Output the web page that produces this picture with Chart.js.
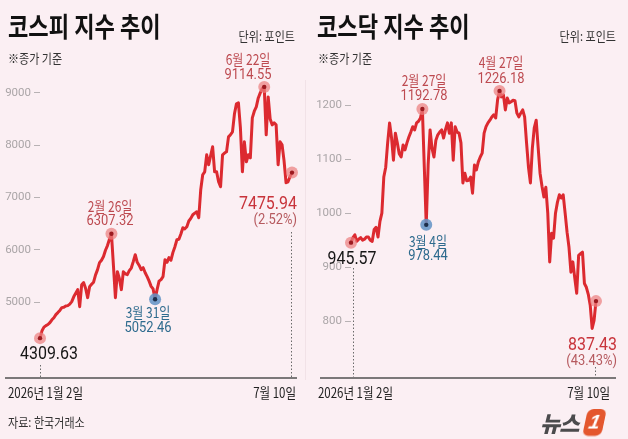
<!DOCTYPE html>
<html>
<head>
<meta charset="utf-8">
<script src="https://cdn.jsdelivr.net/npm/chart.js@4.4.1/dist/chart.umd.min.js"></script>
<style>
  body { margin: 0; width: 628px; height: 439px; overflow: hidden; position: relative; background: #fbeff3; font-family: "Noto Sans CJK KR", sans-serif; }
  canvas { position: absolute; top: 0; }
  .t { position: absolute; white-space: nowrap; line-height: 1; }
  .title { font-size: 27px; font-weight: 700; color: #111; transform: scaleX(0.82); transform-origin: left top; }
  .divider { position: absolute; left: 305px; top: 80px; width: 1px; height: 300px; background: #f1e2e7; }
  .logo { position: absolute; left: 540px; top: 409px; width: 70px; height: 28px; white-space: nowrap; }
  .logo .nw { position: absolute; left: 0; top: 2px; font-size: 22px; font-weight: 900; font-style: italic; color: #4b4b4d; letter-spacing: -1px; line-height: 1; white-space: nowrap; }
  .logo .one { position: absolute; left: 45px; top: 0; width: 19px; height: 27px; background: #e4572e; border-radius: 6px; transform: skewX(-12deg); color: #fff; font: italic 900 20px "Liberation Sans", sans-serif; text-align: center; line-height: 27px; }
</style>
</head>
<body>
<canvas id="kospiChart" width="312" height="439" style="left:0"></canvas>
<canvas id="kosdaqChart" width="314" height="439" style="left:314px"></canvas>
<div class="divider"></div>

<div class="t title" style="left:8px;top:12px">코스피 지수 추이</div>
<div class="t title" style="left:317px;top:12px">코스닥 지수 추이</div>
<div class="logo"><span class="nw">뉴스</span><span class="one">1</span></div>

<script>
// holidays when the exchange is closed
const holidays = ['2026-02-16', '2026-02-17', '2026-02-18', '2026-03-02', '2026-05-01', '2026-05-05', '2026-05-25', '2026-06-03'];

// trading days, 2026-01-02 .. 2026-07-10
const tradingDays = [];
for (let d = new Date(Date.UTC(2026, 0, 2)); d <= new Date(Date.UTC(2026, 6, 10)); d.setUTCDate(d.getUTCDate() + 1)) {
  const day = d.getUTCDay();
  const s = d.toISOString().slice(0, 10);
  if (day !== 0 && day !== 6 && !holidays.includes(s)) tradingDays.push(s);
}

// KOSPI closing values
const kospi = [
  4309.63, 4450, 4520, 4550, 4570, 4607, 4660, 4700, 4760, 4798,
  4840, 4893, 4900, 4925, 4931, 4960, 5008, 5100, 5170, 5237,
  4912, 5330, 5371, 5260, 5084, 5294, 5340, 5380, 5520, 5620,
  5753, 5800, 5870, 5990, 6080, 6200, 6307.32, 5700, 5084, 5581,
  5450, 5237, 5581, 5540, 5524, 5600, 5650, 5772, 5906, 5760,
  5700, 5619, 5657, 5560, 5486, 5400, 5300, 5250, 5052.46, 5237,
  5400, 5430, 5486, 5810, 5760, 5849, 5800, 5950, 6059, 6192,
  6200, 6300, 6421, 6400, 6440, 6550, 6600, 6669, 6700, 6727,
  6612, 7147, 7434, 7491, 7816, 7625, 7800, 7969, 7491, 7491,
  7300, 7205, 7816, 7850, 7873, 8159, 8200, 8255, 8600, 8790,
  8809, 8331, 7491, 8064, 7682, 7816, 7758, 8522, 8650, 8732,
  8904, 9000, 9080, 9114.55, 8198, 8923, 8500, 8389, 8427, 8389,
  7625, 8064, 8007, 7700, 7281, 7300, 7400, 7475.94
];

// KOSDAQ closing values
const kosdaq = [
  945.57, 955, 960, 948, 952, 955, 950, 952, 956, 956,
  950, 948, 970, 974, 956, 985, 1000, 1067, 1085, 1130,
  1167, 1140, 1098, 1148, 1130, 1110, 1104, 1126, 1117, 1130,
  1141, 1150, 1160, 1154, 1167, 1170, 1176, 1192.78, 1085, 978.44,
  1090, 1154, 1120, 1104, 1135, 1145, 1150, 1154, 1139, 1155,
  1167, 1148, 1167, 1098, 1160, 1150, 1148, 1130, 1056, 1074,
  1060, 1061, 1067, 1037, 1089, 1080, 1095, 1104, 1111, 1148,
  1160, 1167, 1172, 1178, 1182, 1176, 1210, 1226.18, 1215, 1219,
  1191, 1213, 1204, 1206, 1209, 1208, 1185, 1178, 1185, 1191,
  1178, 1130, 1085, 1056, 1120, 1158, 1172, 1122, 1074, 1050,
  1030, 1048, 1000, 910, 963, 954, 1000, 1020, 1034, 1028,
  1034, 1000, 965, 937, 891, 910, 880, 852, 922, 925,
  928, 870, 863, 850, 830, 787, 802, 837.43
];

const kospiTicks = [5000, 6000, 7000, 8000, 9000];
const kosdaqTicks = [800, 900, 1000, 1100, 1200];

// marked days: highs (red) and lows (blue)
const kospiHighs = ['2026-02-26', '2026-06-22'];
const kospiLows = ['2026-03-31'];
const kosdaqHighs = ['2026-02-27', '2026-04-27'];
const kosdaqLows = ['2026-03-04'];
const kospiEndChange = '(2.52%)';
const kosdaqEndChange = '(43.43%)';

const titleUnit = '단위: 포인트';
const titleNote = '※종가 기준';
const sourceText = '자료: 한국거래소';

const RED = '#dc2a30';
const NOTE_RED = '#bd4a50';
const NOTE_BLUE = '#2e6b8e';
const NUM_FONT = 'Roboto, sans-serif';

function dateText(s, withYear) {
  const [y, m, d] = s.split('-');
  return (withYear ? y + '년 ' : '') + (+m) + '월 ' + (+d) + '일';
}

function addText(text, x, y, o) {
  const el = document.createElement('div');
  el.className = 't';
  el.textContent = text;
  const align = o.align || 'center';
  const sx = o.sx || 1;
  el.style.left = x + 'px';
  el.style.top = y + 'px';
  el.style.fontSize = o.size + 'px';
  el.style.color = o.color || '#222';
  if (o.num) el.style.fontFamily = NUM_FONT;
  if (o.weight) el.style.fontWeight = o.weight;
  const tx = align === 'left' ? '0' : (align === 'right' ? '-100%' : '-50%');
  el.style.transformOrigin = align + ' center';
  el.style.transform = 'translate(' + tx + ',-50%) scaleX(' + sx + ')';
  document.body.appendChild(el);
}

// draws base axis and dotted drop lines
const decor = {
  id: 'decor',
  afterDatasetsDraw(chart, args, opts) {
    const ctx = chart.ctx;
    const xs = chart.scales.x;
    ctx.save();
    ctx.strokeStyle = '#505050';
    ctx.lineWidth = 1.5;
    ctx.beginPath();
    ctx.moveTo(opts.axisFrom, opts.axisY);
    ctx.lineTo(opts.axisTo, opts.axisY);
    ctx.stroke();
    ctx.setLineDash([1.5, 2]);
    ctx.lineWidth = 1;
    ctx.strokeStyle = '#6a6a6a';
    opts.drops.forEach(d => {
      const px = Math.round(xs.getPixelForValue(d.i) + d.dx) + 0.5;
      ctx.beginPath();
      ctx.moveTo(px, d.from);
      ctx.lineTo(px, opts.axisY - 1);
      ctx.stroke();
    });
    ctx.restore();
  }
};

function makeChart(id, values, ticks, highs, lows, cfg) {
  const marks = tradingDays.map((d, i) =>
    (i === 0 || i === values.length - 1 || highs.includes(d) || lows.includes(d)) ? values[i] : null);
  const isLow = ctx => lows.includes(tradingDays[ctx.dataIndex]);
  return new Chart(document.getElementById(id), {
    type: 'line',
    data: {
      labels: tradingDays,
      datasets: [
        {
          data: marks, showLine: false, order: 1,
          pointRadius: 2.2, pointBorderWidth: 0,
          pointBackgroundColor: ctx => isLow(ctx) ? '#1c2e4a' : '#9c1a20'
        },
        {
          data: marks, showLine: false, order: 2,
          pointRadius: 6, pointBorderWidth: 0,
          pointBackgroundColor: ctx => isLow(ctx) ? 'rgba(96,146,196,0.85)' : 'rgba(236,128,128,0.72)'
        },
        {
          data: values, order: 3,
          borderColor: RED, borderWidth: 3, pointRadius: 0,
          borderJoinStyle: 'round', borderCapStyle: 'round', tension: 0
        }
      ]
    },
    options: {
      responsive: false,
      animation: false,
      layout: { padding: cfg.padding },
      plugins: { legend: { display: false }, tooltip: { enabled: false }, decor: cfg.decor },
      scales: {
        x: { display: false },
        y: {
          min: cfg.min, max: cfg.max,
          afterBuildTicks: s => { s.ticks = ticks.map(v => ({ value: v })); },
          afterFit: s => { s.width = cfg.axisWidth; },
          border: { display: false },
          grid: { drawOnChartArea: false, drawTicks: true, tickLength: 6, tickColor: '#b8b2b4', tickWidth: 1 },
          ticks: { color: '#aaa5a7', font: { family: NUM_FONT, size: 11.5 }, padding: 3, callback: v => String(v) }
        }
      }
    },
    plugins: [decor]
  });
}

const left = makeChart('kospiChart', kospi, kospiTicks, kospiHighs, kospiLows, {
  min: 3700, max: 9400, axisWidth: 40,
  padding: { top: 72, bottom: 69, left: 0, right: 20 },
  decor: { axisY: 378, axisFrom: 5, axisTo: 297, drops: [{ i: 0, dx: 0, from: 365 }, { i: kospi.length - 1, dx: -1, from: 232 }] }
});

const right = makeChart('kosdaqChart', kosdaq, kosdaqTicks, kosdaqHighs, kosdaqLows, {
  min: 760, max: 1250, axisWidth: 37,
  padding: { top: 78, bottom: 96, left: 0, right: 32 },
  decor: { axisY: 378, axisFrom: 6, axisTo: 302, drops: [{ i: 0, dx: 2, from: 268 }, { i: kosdaq.length - 1, dx: -1, from: 367 }] }
});

function pos(chart, values, i, offset) {
  return { x: chart.scales.x.getPixelForValue(i) + offset, y: chart.scales.y.getPixelForValue(values[i]) };
}

function notePair(chart, values, day, offset, color, dx, dy1, dy2) {
  const i = tradingDays.indexOf(day);
  const p = pos(chart, values, i, offset);
  addText(dateText(day), p.x + dx, p.y + dy1, { size: 15, sx: 0.8, color: color });
  addText(values[i].toFixed(2), p.x + dx, p.y + dy2, { size: 15, sx: 0.86, num: true, color: color });
}

function drawNotes(chart, values, highs, lows, endChange, offset, o) {
  highs.forEach((d, k) => notePair(chart, values, d, offset, NOTE_RED, o.highDx[k], o.highDy[k][0], o.highDy[k][1]));
  lows.forEach(d => notePair(chart, values, d, offset, NOTE_BLUE, o.lowDx, o.lowDy[0], o.lowDy[1]));
  const s = pos(chart, values, 0, offset);
  addText(values[0].toFixed(2), s.x + o.startDx, s.y + o.startDy, { size: 19, sx: 0.84, num: true, color: '#161616' });
  const n = values.length - 1;
  const e = pos(chart, values, n, offset);
  addText(values[n].toFixed(2), e.x + o.endDx, e.y + o.endDy[0], { size: 19, sx: 0.84, num: true, color: '#c8343b', align: 'right' });
  addText(endChange, e.x + o.endDx, e.y + o.endDy[1], { size: 15, sx: 0.86, num: true, color: '#b65a5f', align: 'right' });
  // x axis: first and last day
  addText(dateText(tradingDays[0], true), o.axisLeft, 392, { size: 14, sx: 0.82, color: '#222', align: 'left' });
  addText(dateText(tradingDays[n]), o.axisRight, 392, { size: 14, sx: 0.82, color: '#222', align: 'right' });
  addText(titleUnit, o.unitRight, 35, { size: 13, sx: 0.85, color: '#333', align: 'right' });
  addText(titleNote, o.axisLeft, 57, { size: 13, sx: 0.85, color: '#333', align: 'left' });
}

drawNotes(left, kospi, kospiHighs, kospiLows, kospiEndChange, 0, {
  highDx: [-1, -16], highDy: [[-29, -14], [-29, -13]],
  lowDx: -7, lowDy: [12, 28],
  startDx: 9, startDy: 14,
  endDx: 5, endDy: [29, 46],
  axisLeft: 8, axisRight: 296, unitRight: 295
});

drawNotes(right, kosdaq, kosdaqHighs, kosdaqLows, kosdaqEndChange, 314, {
  highDx: [2, 1], highDy: [[-30, -14], [-30, -13]],
  lowDx: 2, lowDy: [15, 30],
  startDx: 1, startDy: 14,
  endDx: 21, endDy: [42, 59],
  axisLeft: 318, axisRight: 610, unitRight: 616
});

addText(sourceText, 8, 421, { size: 13, sx: 0.85, color: '#333', align: 'left' });
</script>
</body>
</html>
